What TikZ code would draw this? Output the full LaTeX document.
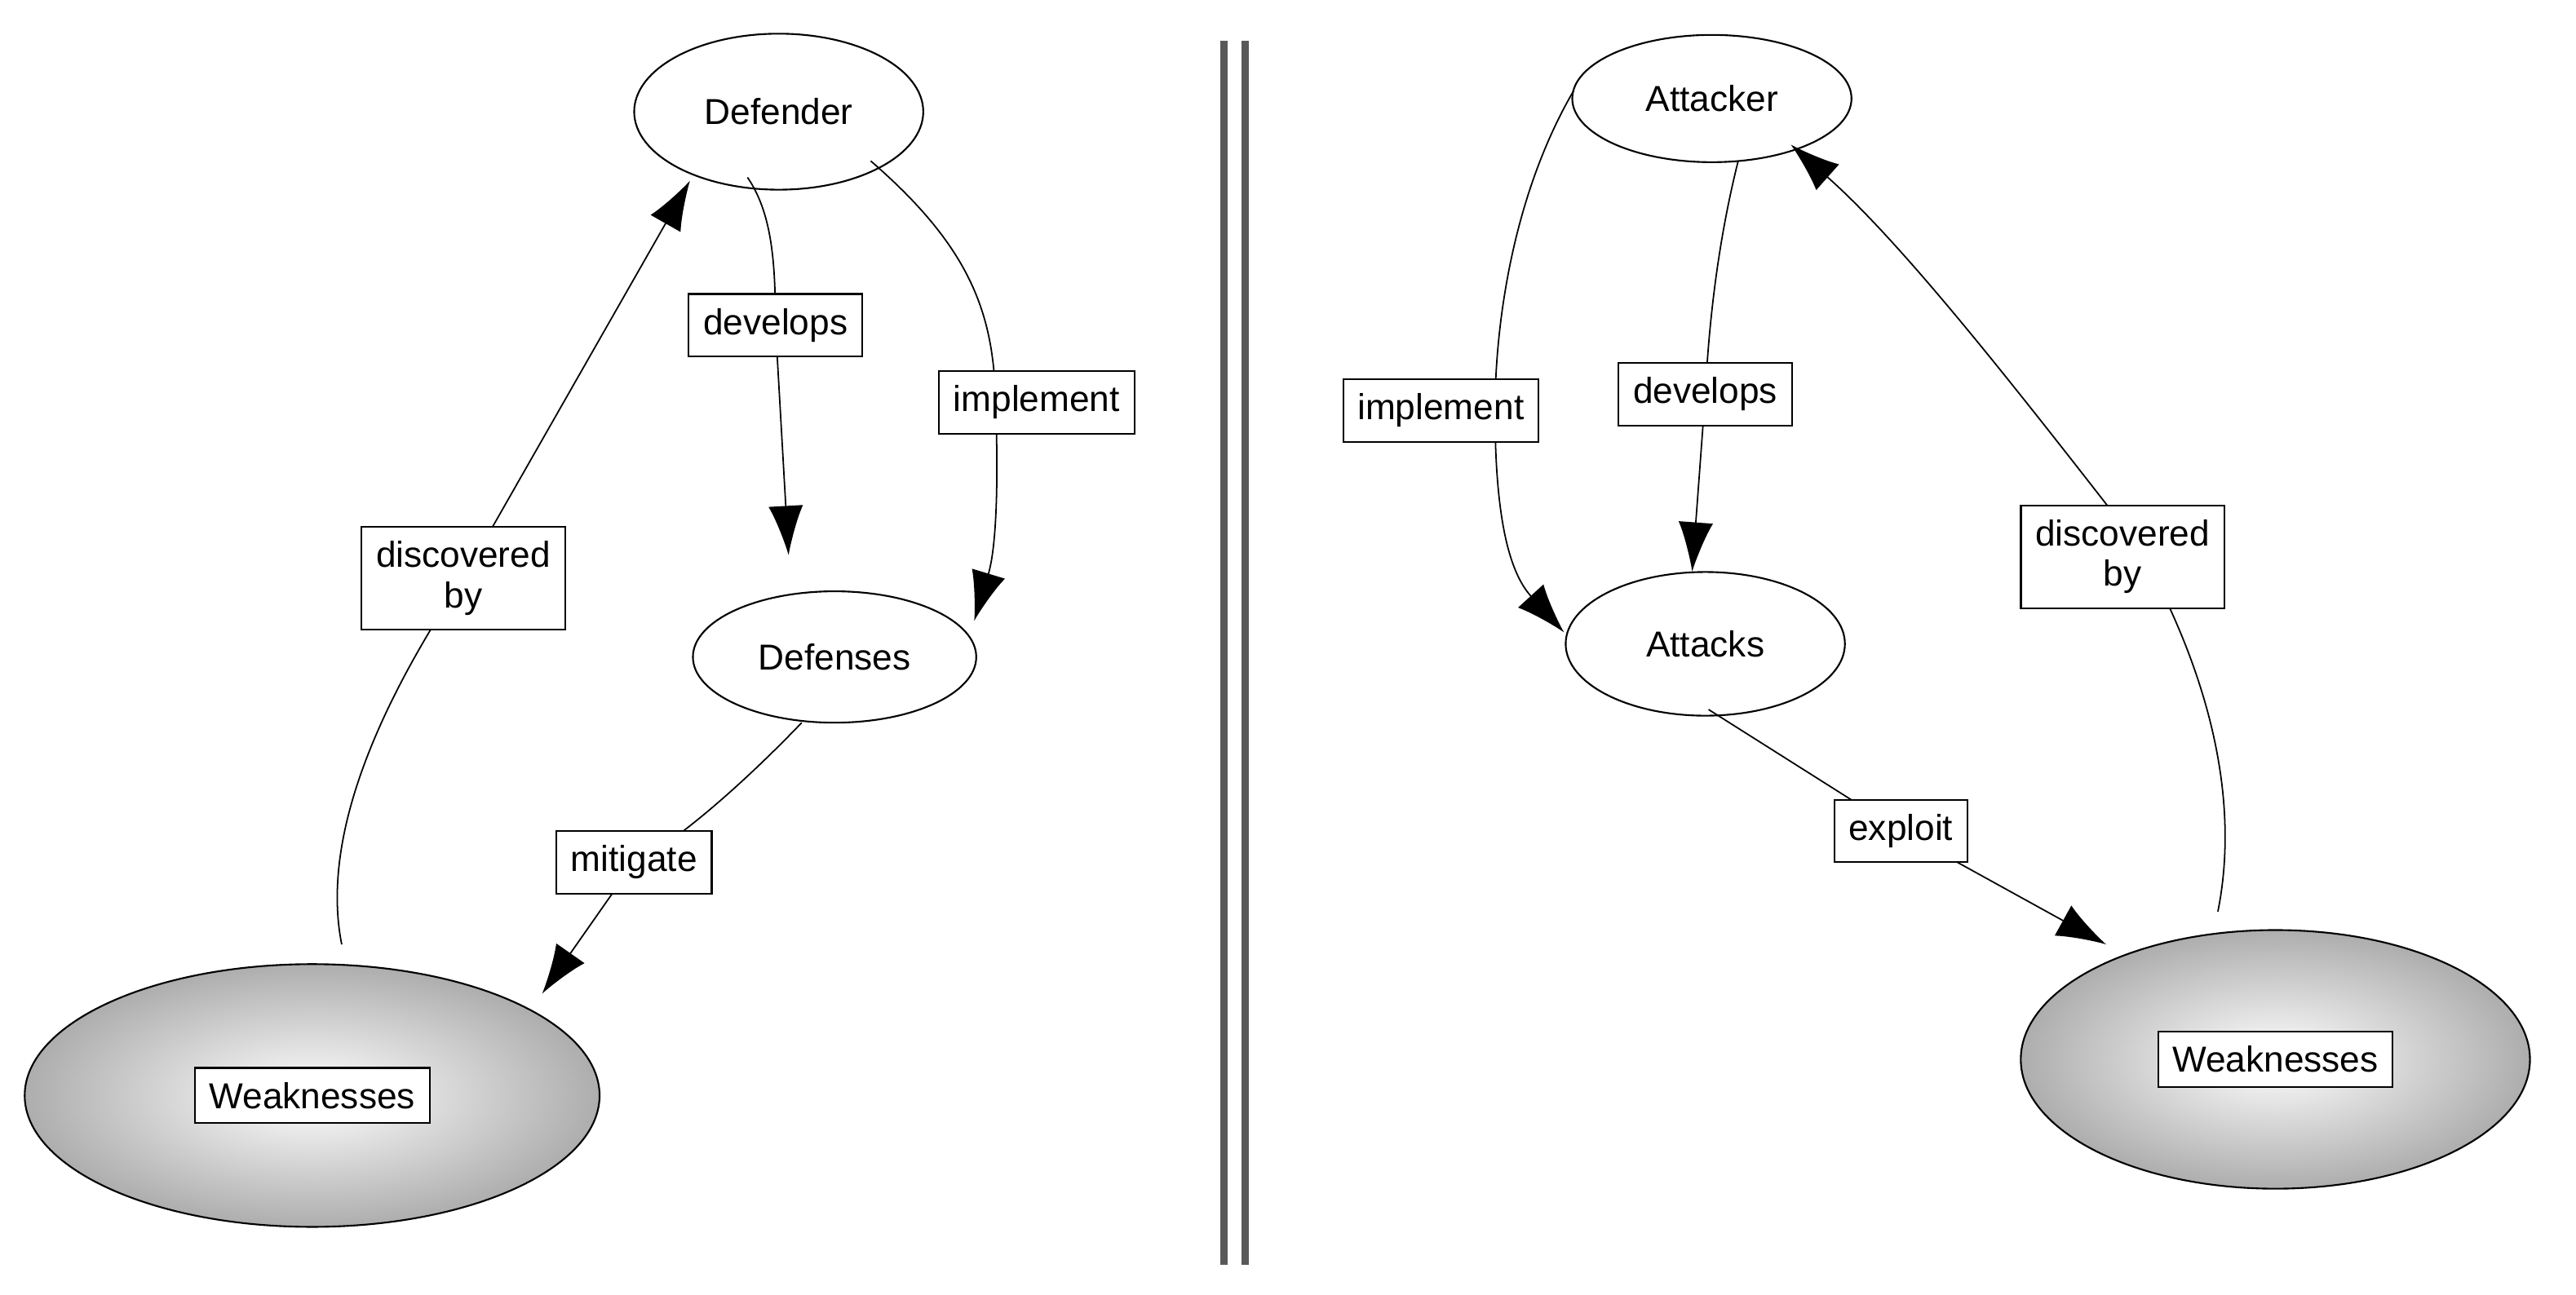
\documentclass[tikz,border=0pt]{standalone}
\usepackage{fontspec}
\setmainfont{Liberation Sans}
\usetikzlibrary{shapes.geometric,arrows.meta}
\begin{document}
\begin{tikzpicture}[x=0.02cm,y=-0.02cm,
  every node/.style={font=\fontsize{12.5}{15}\selectfont},
  ell/.style={ellipse,draw,line width=0.6pt,fill=white,inner sep=0pt},
  weak/.style={ellipse,draw,line width=0.6pt,inner sep=0pt,shading=radial,inner color=white,outer color=black!32},
  lab/.style={rectangle,draw,fill=white,line width=0.6pt,align=center,inner xsep=5pt,inner ysep=5pt,font=\fontsize{12.5}{14}\selectfont},
  edge/.style={line width=0.5pt},
  arr/.style={edge,-{Latex[length=0.6cm,width=0.42cm]}}]
\useasboundingbox (0,0) rectangle (1568,788);
% divider
\draw[line width=2.6pt,black!65] (745,25) -- (745,770) (758,25) -- (758,770);
% left nodes
\node[ell,minimum width=3.52cm, minimum height=1.9cm] (def) at (474,68) {Defender};
\node[ell,minimum width=3.45cm,minimum height=1.6cm] (defs) at (508,400) {Defenses};
\node[weak,minimum width=7cm,minimum height=3.2cm] (wl) at (190,667) {};
\node[lab] (wlt) at (190,667) {Weaknesses};
% left edges
\draw[arr] (455,108) .. controls (470,130) and (472,160) .. (472,198) -- (480,338);
\draw[arr] (530,98) .. controls (590,150) and (605,190) .. (606,245) .. controls (608,300) and (606,335) .. (593,378);
\draw[arr] (208,575) .. controls (195,510) and (230,430) .. (282,352) -- (420,110);
\draw[arr] (488,440) .. controls (440,490) and (400,520) .. (386,525) -- (330,605);
\node[lab] (dv) at (472,198) {develops};
\node[lab] (im) at (631,245) {implement};
\node[lab] (db) at (282,352) {discovered\\by};
\node[lab] (mi) at (386,525) {mitigate};
% right nodes
\node[ell,minimum width=3.4cm,minimum height=1.55cm] (att) at (1042,60) {Attacker};
\node[ell,minimum width=3.4cm,minimum height=1.75cm] (atks) at (1038,392) {Attacks};
\node[weak,minimum width=6.2cm,minimum height=3.15cm] (wr) at (1385,645) {};
\node[lab] (wrt) at (1385,645) {Weaknesses};
% right edges
\draw[arr] (958,55) .. controls (920,120) and (910,200) .. (910,250) .. controls (910,320) and (920,350) .. (952,385);
\draw[arr] (1058,98) .. controls (1045,150) and (1040,200) .. (1038,240) -- (1030,348);
\draw[arr] (1350,555) .. controls (1365,480) and (1340,400) .. (1300,330) .. controls (1230,240) and (1160,150) .. (1090,88);
\draw[arr] (1040,432) -- (1157,506) -- (1282,575);
\node[lab] (im2) at (877,250) {implement};
\node[lab] (dv2) at (1038,240) {develops};
\node[lab] (db2) at (1292,339) {discovered\\by};
\node[lab] (ex) at (1157,506) {exploit};
\end{tikzpicture}
\end{document}
